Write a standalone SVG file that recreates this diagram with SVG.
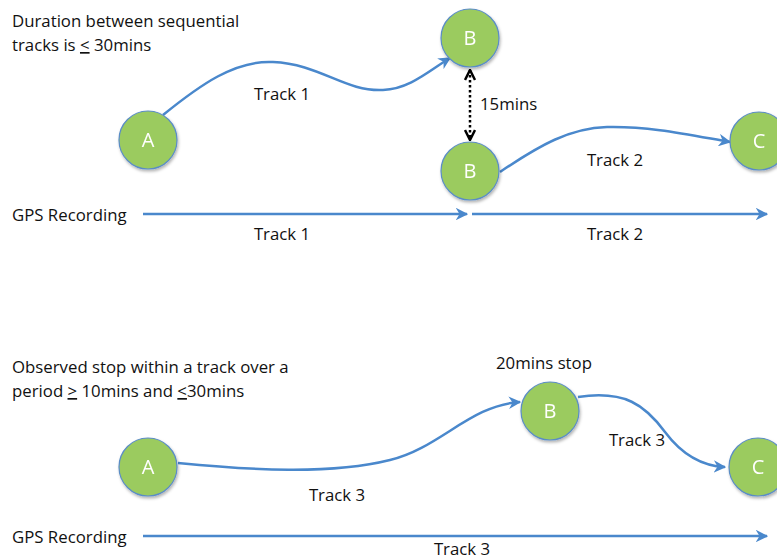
<svg xmlns="http://www.w3.org/2000/svg" width="777" height="560" viewBox="0 0 777 560">
<style>
text{font-family:"Open Sans","Liberation Sans",sans-serif;fill:#111}
.t{font-size:16.8px}
.lbl{font-size:16.8px;text-anchor:middle}
.n circle{fill:#9bcb5f;stroke:#5a8cc6;stroke-width:1.2}
.n text{fill:#fff;font-size:20px;text-anchor:middle}
.c{fill:none;stroke:#4a88cc;stroke-width:2.5}
</style>
<defs>
<marker id="ah" viewBox="0 0 10 10" refX="9" refY="5" markerWidth="5" markerHeight="5" orient="auto" markerUnits="strokeWidth">
<path d="M0,0 L10,5 L0,10 L3,5 z" fill="#4a88cc"/>
</marker>
<marker id="bh" viewBox="0 0 10 10" refX="9" refY="5" markerWidth="5" markerHeight="5" orient="auto-start-reverse" markerUnits="strokeWidth">
<path d="M1,1 L9,5 L1,9" fill="none" stroke="#000" stroke-width="2"/>
</marker>
<filter id="sh" x="-20%" y="-20%" width="150%" height="150%">
<feDropShadow dx="1" dy="2" stdDeviation="1.5" flood-color="#000" flood-opacity="0.3"/>
</filter>
</defs>

<text class="t" x="12" y="27">Duration between sequential</text>
<text class="t" x="12" y="51">tracks is <tspan text-decoration="underline">&lt;</tspan> 30mins</text>
<text class="t" x="12" y="373">Observed stop within a track over a</text>
<text class="t" x="12" y="397">period <tspan text-decoration="underline">&gt;</tspan> 10mins and <tspan text-decoration="underline">&lt;</tspan>30mins</text>

<g id="connectors">
<path class="c" marker-end="url(#ah)" d="M163,115 C200,85 235,60 273,62 C320,64 345,92 383,90 C410,89 430,70 450,58"/>
<path class="c" marker-end="url(#ah)" d="M500,172 C540,145 570,128 607,127 C650,126 690,135 730,142"/>
<line x1="470" y1="70" x2="470" y2="140" stroke="#000" stroke-width="2.5" stroke-dasharray="2.5,2.5" marker-start="url(#bh)" marker-end="url(#bh)"/>
<line class="c" x1="143" y1="214" x2="467" y2="214" marker-end="url(#ah)"/>
<line class="c" x1="472" y1="214" x2="767" y2="214" marker-end="url(#ah)"/>
<path class="c" marker-end="url(#ah)" d="M178,463 C250,470 330,475 390,460 C440,448 470,405 520,402"/>
<path class="c" marker-end="url(#ah)" d="M578,397 C625,390 645,405 665,432 C680,452 700,466 725,467"/>
<line class="c" x1="143" y1="536" x2="767" y2="536" marker-end="url(#ah)"/>
</g>

<text class="lbl" x="282" y="100">Track 1</text>
<text class="t" x="480" y="110">15mins</text>
<text class="lbl" x="615" y="166">Track 2</text>
<text class="t" x="12" y="221">GPS Recording</text>
<text class="lbl" x="282" y="240">Track 1</text>
<text class="lbl" x="615" y="240">Track 2</text>
<text class="lbl" x="544" y="369">20mins stop</text>
<text class="lbl" x="337" y="501">Track 3</text>
<text class="lbl" x="637" y="446">Track 3</text>
<text class="t" x="12" y="543">GPS Recording</text>
<text class="lbl" x="462" y="555">Track 3</text>

<g id="nA1" class="n" filter="url(#sh)"><circle cx="148" cy="140" r="29"/><text x="148" y="147">A</text></g>
<g id="nB1" class="n" filter="url(#sh)"><circle cx="470" cy="38" r="29"/><text x="470" y="45">B</text></g>
<g id="nB2" class="n" filter="url(#sh)"><circle cx="470" cy="171" r="29"/><text x="470" y="178">B</text></g>
<g id="nC1" class="n" filter="url(#sh)"><circle cx="759" cy="141" r="29"/><text x="759" y="148">C</text></g>
<g id="nA2" class="n" filter="url(#sh)"><circle cx="148" cy="467" r="29"/><text x="148" y="474">A</text></g>
<g id="nB3" class="n" filter="url(#sh)"><circle cx="550" cy="411" r="29"/><text x="550" y="418">B</text></g>
<g id="nC2" class="n" filter="url(#sh)"><circle cx="758" cy="467" r="29"/><text x="758" y="474">C</text></g>
</svg>
